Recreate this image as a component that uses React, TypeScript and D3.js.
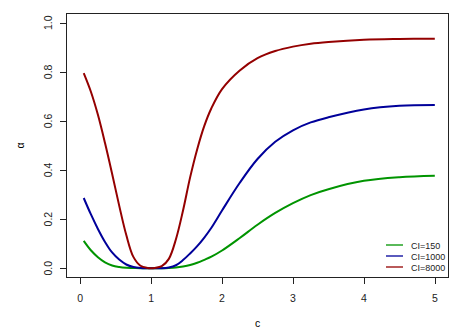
import * as d3 from "d3";
import React from "react";

const cValues = [
  0.05, 0.15, 0.25, 0.35, 0.45, 0.55, 0.65, 0.75, 0.85, 0.95, 1.0, 1.05, 1.15,
  1.25, 1.35, 1.45, 1.55, 1.65, 1.75, 1.85, 2.0, 2.25, 2.5, 2.75, 3.0, 3.25,
  3.5, 4.0, 4.5, 5.0,
];
const ci150 = [
  0.111, 0.073, 0.045, 0.024, 0.011, 0.005, 0.002, 0.001, 0, 0, 0, 0, 0, 0.001,
  0.003, 0.007, 0.013, 0.022, 0.034, 0.047, 0.072, 0.123, 0.177, 0.225, 0.265,
  0.298, 0.322, 0.356, 0.371, 0.377,
];
const ci1000 = [
  0.286, 0.22, 0.16, 0.107, 0.064, 0.035, 0.015, 0.005, 0.001, 0, 0, 0, 0,
  0.003, 0.012, 0.033, 0.06, 0.09, 0.125, 0.165, 0.235, 0.348, 0.445, 0.515,
  0.562, 0.594, 0.615, 0.647, 0.662, 0.665,
];
const ci8000 = [
  0.795, 0.72, 0.625, 0.51, 0.385, 0.255, 0.135, 0.046, 0.01, 0.001, 0, 0.001,
  0.008, 0.038, 0.118, 0.235, 0.37, 0.485, 0.58, 0.652, 0.73, 0.806, 0.856,
  0.885, 0.903, 0.915, 0.922, 0.931, 0.934, 0.935,
];
const seriesNames = ["CI=150", "CI=1000", "CI=8000"];
const seriesColors = ["#009400", "#00009a", "#940000"];
const xTicks = [0, 1, 2, 3, 4, 5];
const yTicks = [0, 0.2, 0.4, 0.6, 0.8, 1.0];

const width = 463;
const height = 331;
const left = 66;
const right = 449;
const top = 13;
const bottom = 278;

const App = () => {
  const x = d3.scaleLinear([-0.2, 5.2], [left, right]);
  const y = d3.scaleLinear([-0.04, 1.04], [bottom, top]);
  const series = [ci150, ci1000, ci8000];
  const line = d3
    .line<number>()
    .x((d, i) => x(cValues[i]))
    .y((d) => y(d))
    .curve(d3.curveCatmullRom.alpha(0.5));
  const font = "'Liberation Sans', Arial, Helvetica, sans-serif";

  return (
    <svg
      width={width}
      height={height}
      style={{ position: "absolute", left: 0, top: 0, background: "white" }}
      fontFamily={font}
    >
      <rect width={width} height={height} fill="white" />
      {series.map((s, k) => (
        <path
          key={k}
          d={line(s) ?? undefined}
          fill="none"
          stroke={seriesColors[k]}
          strokeWidth={2}
        />
      ))}
      <rect
        x={left + 0.5}
        y={top + 0.5}
        width={right - left - 1}
        height={bottom - top - 1}
        fill="none"
        stroke="#222"
      />
      {/* x axis */}
      <g>
        {xTicks.map((t) => (
          <g key={t}>
            <line
              x1={Math.round(x(t)) + 0.5}
              x2={Math.round(x(t)) + 0.5}
              y1={bottom}
              y2={bottom + 6}
              stroke="#222"
            />
            <text
              x={x(t)}
              y={302}
              textAnchor="middle"
              fontSize={10.5}
              fill="#222"
            >
              {t}
            </text>
          </g>
        ))}
        <text x={(left + right) / 2} y={327} textAnchor="middle" fontSize={10.5}>
          c
        </text>
      </g>
      {/* y axis */}
      <g>
        {yTicks.map((t) => (
          <g key={t}>
            <line
              x1={left - 6}
              x2={left}
              y1={Math.round(y(t)) + 0.5}
              y2={Math.round(y(t)) + 0.5}
              stroke="#222"
            />
            <text
              transform={`translate(52,${y(t)}) rotate(-90)`}
              textAnchor="middle"
              fontSize={10.5}
              fill="#222"
            >
              {t.toFixed(1)}
            </text>
          </g>
        ))}
        <text
          transform={`translate(24,${(top + bottom) / 2}) rotate(-90)`}
          textAnchor="middle"
          fontSize={10.5}
        >
          α
        </text>
      </g>
      {/* legend */}
      <g>
        {seriesNames.map((n, k) => (
          <g key={n} transform={`translate(0,${245 + k * 11})`}>
            <line x1={386} x2={403} y1={0} y2={0} stroke={seriesColors[k]} strokeWidth={1.3} />
            <text x={411} y={3.5} fontSize={9} fill="#222">
              {n}
            </text>
          </g>
        ))}
      </g>
    </svg>
  );
};

export default App;
